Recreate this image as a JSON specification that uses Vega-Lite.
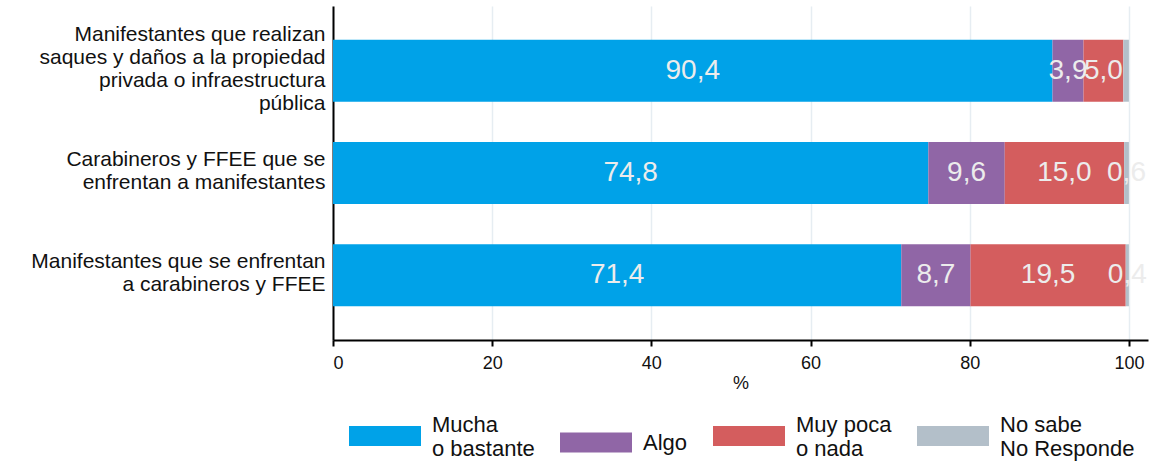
{
  "$schema": "https://vega.github.io/schema/vega-lite/v6.json",
  "width": 815,
  "height": 334,
  "autosize": {"type": "none"},
  "padding": {"left": 333, "top": 6, "right": 3, "bottom": 121},
  "data": {
    "values": [
      {"row": 1, "cat": "Manifestantes que realizan|saques y daños a la propiedad|privada o infraestructura|pública", "resp": "Mucha|o bastante", "ord": 1, "value": 90.4},
      {"row": 1, "cat": "Manifestantes que realizan|saques y daños a la propiedad|privada o infraestructura|pública", "resp": "Algo", "ord": 2, "value": 3.9},
      {"row": 1, "cat": "Manifestantes que realizan|saques y daños a la propiedad|privada o infraestructura|pública", "resp": "Muy poca|o nada", "ord": 3, "value": 5.0},
      {"row": 1, "cat": "Manifestantes que realizan|saques y daños a la propiedad|privada o infraestructura|pública", "resp": "No sabe|No Responde", "ord": 4, "value": 0.7},
      {"row": 2, "cat": "Carabineros y FFEE que se|enfrentan a manifestantes", "resp": "Mucha|o bastante", "ord": 1, "value": 74.8},
      {"row": 2, "cat": "Carabineros y FFEE que se|enfrentan a manifestantes", "resp": "Algo", "ord": 2, "value": 9.6},
      {"row": 2, "cat": "Carabineros y FFEE que se|enfrentan a manifestantes", "resp": "Muy poca|o nada", "ord": 3, "value": 15.0},
      {"row": 2, "cat": "Carabineros y FFEE que se|enfrentan a manifestantes", "resp": "No sabe|No Responde", "ord": 4, "value": 0.6},
      {"row": 3, "cat": "Manifestantes que se enfrentan|a carabineros y FFEE", "resp": "Mucha|o bastante", "ord": 1, "value": 71.4},
      {"row": 3, "cat": "Manifestantes que se enfrentan|a carabineros y FFEE", "resp": "Algo", "ord": 2, "value": 8.7},
      {"row": 3, "cat": "Manifestantes que se enfrentan|a carabineros y FFEE", "resp": "Muy poca|o nada", "ord": 3, "value": 19.5},
      {"row": 3, "cat": "Manifestantes que se enfrentan|a carabineros y FFEE", "resp": "No sabe|No Responde", "ord": 4, "value": 0.4}
    ]
  },
  "transform": [
    {"stack": "value", "groupby": ["cat"], "sort": [{"field": "ord", "order": "ascending"}], "as": ["x0", "x1"]},
    {"calculate": "(datum.x0 + datum.x1) / 2", "as": "mid"}
  ],
  "encoding": {
    "y": {
      "field": "cat",
      "type": "nominal",
      "sort": {"field": "row", "op": "min", "order": "ascending"},
      "scale": {"paddingInner": 0.394, "paddingOuter": 0.33},
      "axis": {
        "title": null,
        "ticks": false,
        "domain": true,
        "domainColor": "#000000",
        "domainWidth": 2,
        "labelPadding": 8,
        "labelFontSize": 21,
        "labelLineHeight": 23,
        "labelColor": "#111111",
        "labelLimit": 400,
        "labelAlign": "right",
        "labelOffset": {"condition": {"test": "datum.value == 'Manifestantes que realizan|saques y daños a la propiedad|privada o infraestructura|pública'", "value": -36}, "value": -13},
        "labelExpr": "split(datum.label, '|')"
      }
    }
  },
  "layer": [
    {
      "mark": {"type": "bar"},
      "encoding": {
        "x": {
          "field": "x0",
          "type": "quantitative",
          "scale": {"domain": [0, 102.4], "nice": false, "zero": true},
          "axis": {
            "values": [0, 20, 40, 60, 80, 100],
            "format": "d",
            "grid": true,
            "gridColor": "#e6edf2",
            "gridWidth": 1.5,
            "domainColor": "#000000",
            "domainWidth": 2,
            "tickColor": "#000000",
            "tickWidth": 2,
            "tickSize": 6,
            "labelFontSize": 18,
            "labelColor": "#111111",
            "labelPadding": 8,
            "title": "%",
            "titleFontSize": 18,
            "titleFontWeight": "normal",
            "titleColor": "#111111",
            "titlePadding": 2
          }
        },
        "x2": {"field": "x1"},
        "color": {
          "field": "resp",
          "type": "nominal",
          "scale": {
            "domain": ["Mucha|o bastante", "Algo", "Muy poca|o nada", "No sabe|No Responde"],
            "range": ["#00a2e8", "#9066a6", "#d45d5e", "#b3bfc9"]
          },
          "legend": {
            "title": null,
            "orient": "none",
            "legendX": 16,
            "legendY": 394,
            "direction": "horizontal",
            "columns": 4,
            "columnPadding": 25,
            "symbolType": "M-1,-0.278H1V0.278H-1Z",
            "symbolSize": 5184,
            "symbolStrokeWidth": 0,
            "symbolOpacity": 1,
            "labelOffset": 11,
            "labelFontSize": 22,
            "labelLineHeight": 22,
            "labelColor": "#111111",
            "labelLimit": 300,
            "labelExpr": "split(datum.label, '|')",
            "encode": {
              "labels": {"update": {"dy": {"signal": "datum.value == 'Algo' ? 0 : -11"}}}
            }
          }
        },
        "order": {"field": "ord", "type": "quantitative"}
      }
    },
    {
      "transform": [{"filter": "!(datum.ord == 4 && datum.row == 1)"}],
      "mark": {"type": "text", "fontSize": 28, "color": "#ececec", "baseline": "middle", "align": "center"},
      "encoding": {
        "x": {"field": "mid", "type": "quantitative"},
        "text": {"field": "value", "type": "quantitative", "format": ".1f"}
      }
    }
  ],
  "config": {
    "font": "Liberation Sans",
    "view": {"stroke": null},
    "locale": {"number": {"decimal": ",", "thousands": ".", "grouping": [3], "currency": ["", ""]}}
  }
}
